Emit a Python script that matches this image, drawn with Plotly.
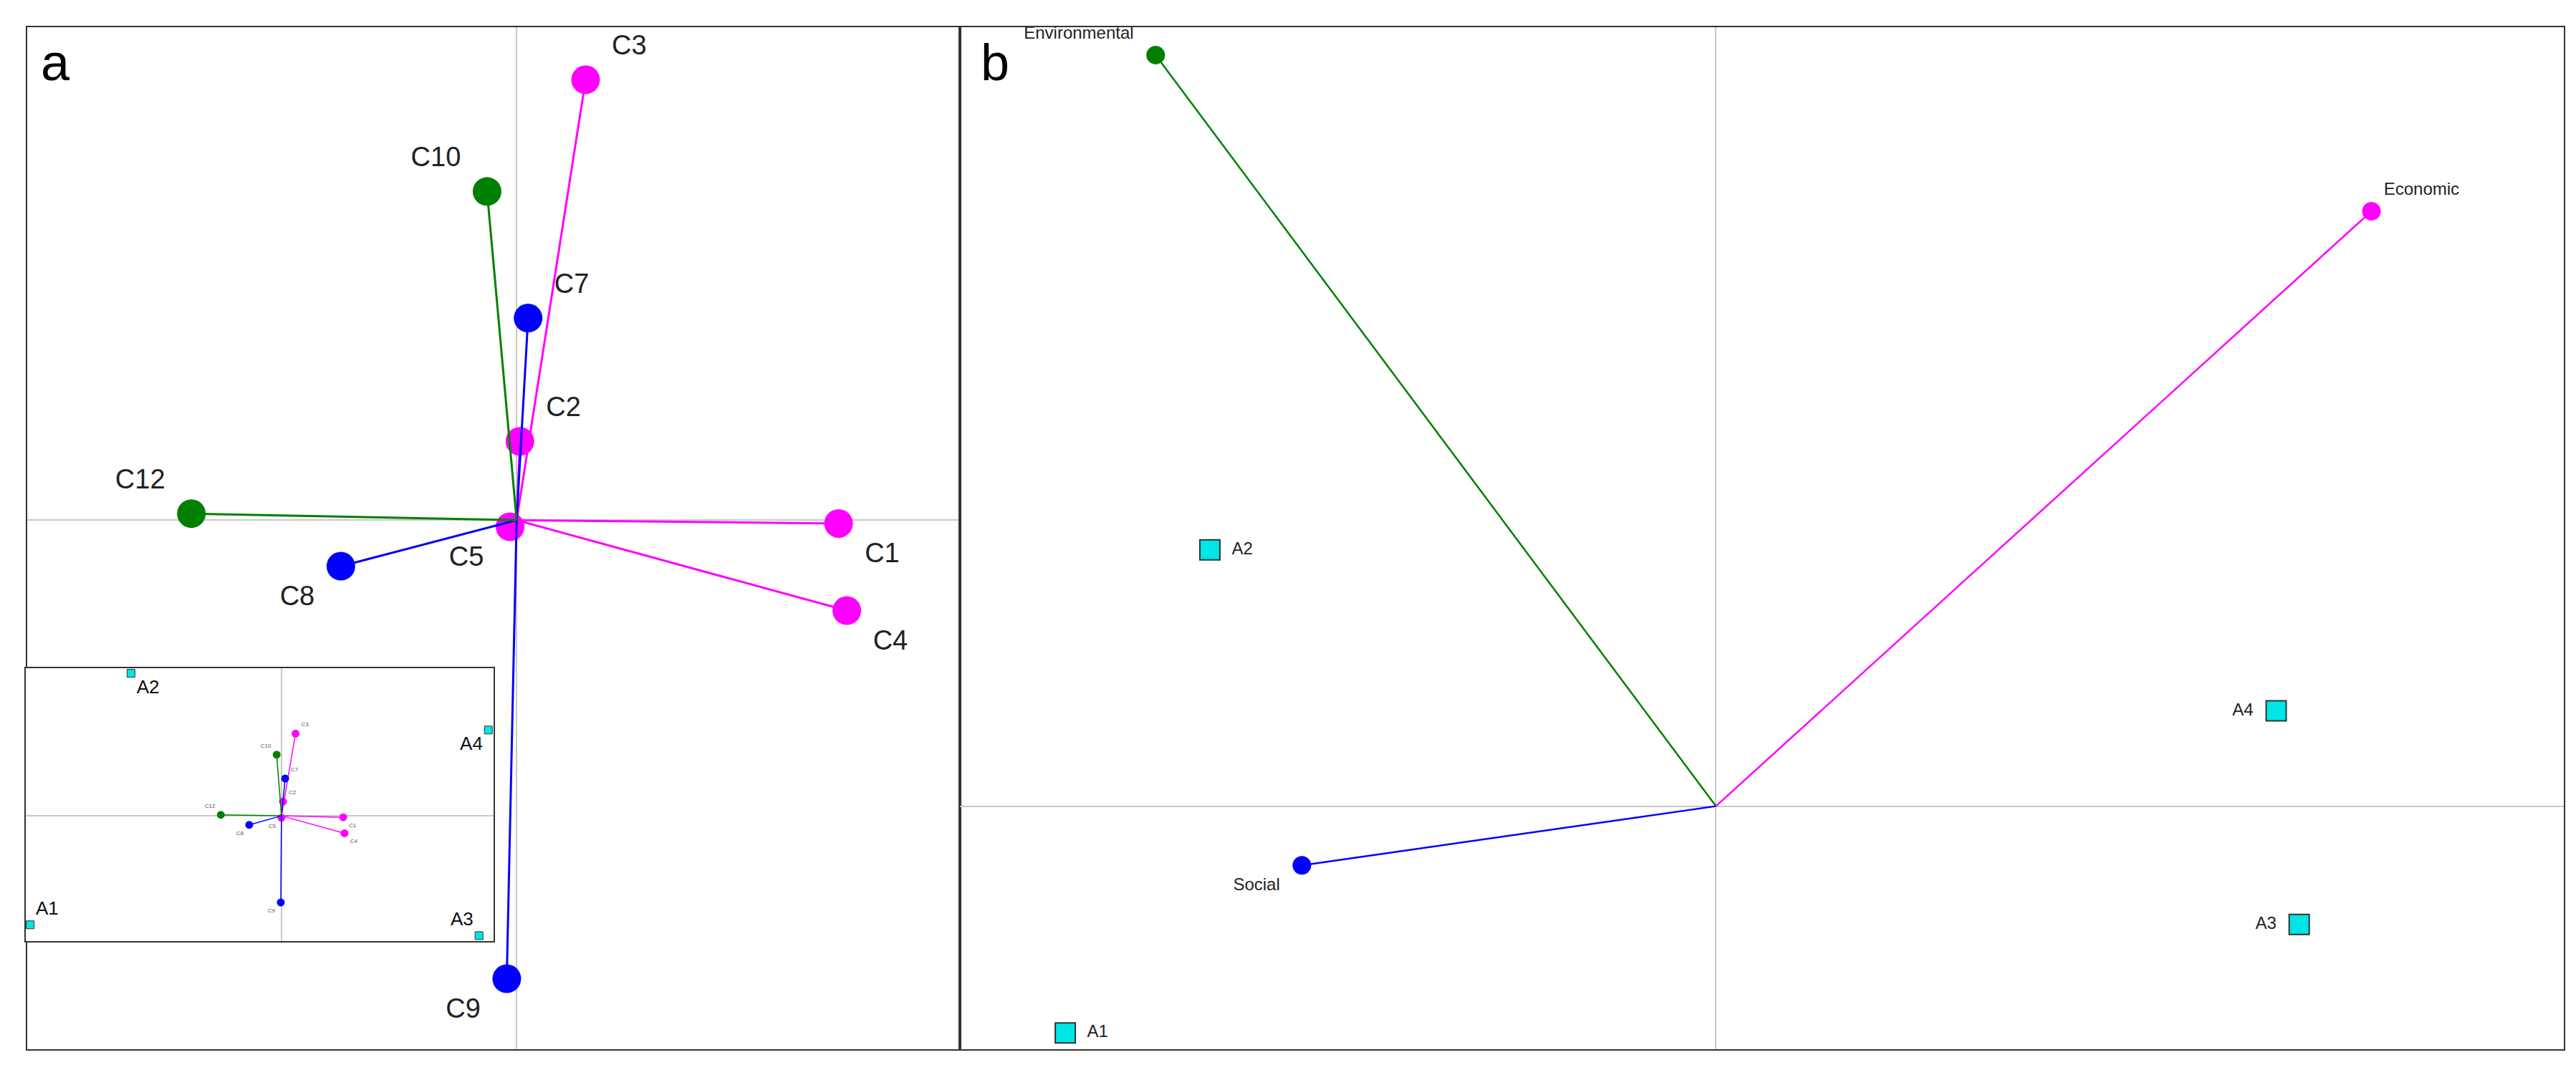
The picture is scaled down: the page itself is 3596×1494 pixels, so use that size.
import plotly.graph_objects as go

# Panel a: criteria loadings
crit = ["C1","C2","C3","C4","C5","C7","C8","C9","C10","C12"]
crit_x = [1.96, 0.02, 0.42, 2.01, -0.04, 0.07, -1.07, -0.06, -0.18, -1.98]
crit_y = [-0.02, 0.48, 2.68, -0.55, -0.04, 1.23, -0.28, -2.79, 2.00, 0.04]
crit_col = ["#ff00ff"]*5 + ["#0000ff"]*3 + ["#008000"]*2
crit_pos = ["bottom right","top right","top right","bottom right","bottom left",
            "top right","bottom left","bottom left","top left","top left"]

# Inset: criteria + alternatives
ins_x = [37.6, 0.95, 8.6, 38.4, 0, 2.3, -19.6, -0.4, -2.9, -36.9]
ins_y = [-0.9, 8.7, 50.0, -10.6, -1.2, 22.7, -5.5, -52.7, 37.2, 0.6]
alts = ["A1","A2","A3","A4"]
ins_ax = [-153, -91.6, 120.3, 126]
ins_ay = [-66.3, 86.7, -72.9, 52.2]

# Panel b: dimensions and alternatives
dims = ["Environmental","Economic","Social"]
dim_x = [-341, 399, -252]
dim_y = [457, 362, -36]
dim_col = ["#008000","#ff00ff","#0000ff"]
dim_pos = ["top left","top right","bottom left"]
alt_x = [-396, -308, 355, 341]
alt_y = [-138, 156, -72, 58]
alt_pos = ["middle right","middle right","middle left","middle left"]

fig = go.Figure()
F = "Liberation Sans"

# panel a
for n, x, y, c, p in zip(crit, crit_x, crit_y, crit_col, crit_pos):
    fig.add_trace(go.Scatter(x=[0, x], y=[0, y], mode="lines", line=dict(color=c, width=3),
                             xaxis="x", yaxis="y", showlegend=False, hoverinfo="skip"))
    fig.add_trace(go.Scatter(x=[x], y=[y], mode="markers+text", text=[" "+n+" "], textposition=p,
                             marker=dict(color=c, size=40), textfont=dict(size=38, family=F, color="#222"),
                             xaxis="x", yaxis="y", showlegend=False))
# inset
for n, x, y, c, p in zip(crit, ins_x, ins_y, crit_col, crit_pos):
    fig.add_trace(go.Scatter(x=[0, x], y=[0, y], mode="lines", line=dict(color=c, width=1.5),
                             xaxis="x3", yaxis="y3", showlegend=False, hoverinfo="skip"))
    fig.add_trace(go.Scatter(x=[x], y=[y], mode="markers+text", text=[n], textposition=p,
                             marker=dict(color=c, size=11), textfont=dict(size=8, family=F, color="#555"),
                             xaxis="x3", yaxis="y3", showlegend=False))
fig.add_trace(go.Scatter(x=ins_ax, y=ins_ay, mode="markers+text", text=alts,
                         textposition=["top right","bottom right","top left","bottom left"],
                         marker=dict(color="#00e5e5", size=11, symbol="square", line=dict(color="#333", width=1)),
                         textfont=dict(size=26, family=F, color="#111"),
                         xaxis="x3", yaxis="y3", showlegend=False, cliponaxis=False))
# panel b
for n, x, y, c, p in zip(dims, dim_x, dim_y, dim_col, dim_pos):
    fig.add_trace(go.Scatter(x=[0, x], y=[0, y], mode="lines", line=dict(color=c, width=2.5),
                             xaxis="x2", yaxis="y2", showlegend=False, hoverinfo="skip"))
    fig.add_trace(go.Scatter(x=[x], y=[y], mode="markers+text", text=[n+"  "], textposition=p,
                             marker=dict(color=c, size=26), textfont=dict(size=24, family=F, color="#222"),
                             xaxis="x2", yaxis="y2", showlegend=False, cliponaxis=False))
fig.add_trace(go.Scatter(x=alt_x, y=alt_y, mode="markers+text", text=["  "+a+"  " for a in alts],
                         textposition=alt_pos,
                         marker=dict(color="#00e5e5", size=28, symbol="square", line=dict(color="#333", width=2)),
                         textfont=dict(size=24, family=F, color="#222"),
                         xaxis="x2", yaxis="y2", showlegend=False))

ax = dict(showgrid=False, showticklabels=False, ticks="", zeroline=True, zerolinecolor="#c8c8c8",
          zerolinewidth=2, showline=True, linecolor="#333", linewidth=2, mirror=True)
fig.update_layout(
    width=3596, height=1494, margin=dict(l=0, r=0, t=0, b=0),
    plot_bgcolor="white", paper_bgcolor="white",
    xaxis=dict(ax, domain=[0.0083, 0.3705], range=[-2.98, 2.70]),
    yaxis=dict(ax, domain=[0.0246, 0.980], range=[-3.22, 3.00]),
    xaxis2=dict(ax, domain=[0.3705, 0.993], range=[-460, 516]),
    yaxis2=dict(ax, domain=[0.0246, 0.980], range=[-148, 474], anchor="x2"),
    xaxis3=dict(ax, domain=[0.0077, 0.1894], range=[-155.8, 129.2], anchor="y3", zerolinewidth=1.5),
    yaxis3=dict(ax, domain=[0.126, 0.381], range=[-76.1, 89.9], anchor="x3"),
    annotations=[
        dict(text="a", x=0.013, y=0.975, xref="paper", yref="paper", xanchor="left", yanchor="top",
             showarrow=False, font=dict(size=72, family=F, color="black")),
        dict(text="b", x=0.378, y=0.975, xref="paper", yref="paper", xanchor="left", yanchor="top",
             showarrow=False, font=dict(size=72, family=F, color="black")),
    ],
)
fig.layout.xaxis.anchor = "y"
fig.layout.xaxis2.anchor = "y2"
fig.layout.yaxis.anchor = "x"
fig.layout.xaxis3.layer = "above traces"
# inset background
fig.add_shape(type="rect", xref="x3 domain", yref="y3 domain", x0=0, x1=1, y0=0, y1=1,
              fillcolor="white", line=dict(width=0), layer="below")
fig.write_html("out.html")
